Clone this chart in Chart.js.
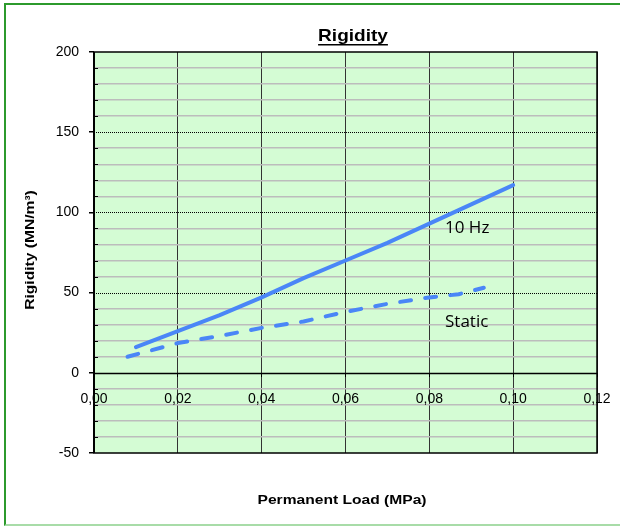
<!DOCTYPE html>
<html>
<head>
<meta charset="utf-8">
<script src="https://cdn.jsdelivr.net/npm/chart.js@4"></script>
<style>
  html, body { margin: 0; padding: 0; background: #fff; }
  #wrap { position: relative; width: 620px; height: 530px; }
  #frame {
    position: absolute; left: 4px; top: 3px; width: 620px; height: 523px;
    border-left: 2px solid #2c9a2c; border-top: 2px solid #2c9a2c;
    border-bottom: 2px solid #a8dca8; box-sizing: border-box;
  }
  canvas { position: absolute; left: 0; top: 0; }
</style>
</head>
<body>
<div id="wrap">
  <div id="frame"></div>
  <canvas id="rigidityChart" width="620" height="530"></canvas>
</div>
<script>
// Rigidity vs permanent load

const loads10Hz = [0.01, 0.02, 0.03, 0.04, 0.05, 0.06, 0.07, 0.08, 0.09, 0.10];
const rigidity10Hz = [16, 26, 36, 47, 59, 70, 81, 93, 105, 117];

const loadsStatic = [0.008, 0.02, 0.03, 0.04, 0.05, 0.06, 0.07, 0.08, 0.087, 0.093];
const rigidityStatic = [10, 18.5, 23, 28, 32, 38, 43, 47, 49, 53];

const xTicks = [0, 0.02, 0.04, 0.06, 0.08, 0.10, 0.12];
const yMajorTicks = [-50, 0, 50, 100, 150, 200];

const LINE_BLUE = '#4a86f7';
const FONT = '"Liberation Sans", Arial, sans-serif';

function toPoints(xs, ys) {
  return xs.map((x, i) => ({ x, y: ys[i] }));
}

// text squeezed/stretched along its own direction
function stretchedText(ctx, text, x, y, sx) {
  ctx.save();
  ctx.translate(x, y);
  ctx.scale(sx, 1);
  ctx.fillText(text, 0, 0);
  ctx.restore();
}

// Plot background, major dotted lines, frame and texts
const decorPlugin = {
  id: 'decor',
  beforeDraw(chart) {
    const { ctx, chartArea: a } = chart;
    ctx.save();
    ctx.fillStyle = '#d4fcd4';
    ctx.fillRect(a.left, a.top, a.right - a.left, a.bottom - a.top);
    ctx.restore();
  },
  beforeDatasetsDraw(chart) {
    const { ctx, chartArea: a, scales } = chart;
    const y = scales.y;
    ctx.save();
    // dotted major lines
    ctx.strokeStyle = '#000';
    ctx.lineWidth = 1;
    ctx.setLineDash([1, 1]);
    yMajorTicks.forEach(v => {
      if (v === 0 || v === -50 || v === 200) return;
      const py = Math.round(y.getPixelForValue(v)) + 0.5;
      ctx.beginPath();
      ctx.moveTo(a.left, py);
      ctx.lineTo(a.right, py);
      ctx.stroke();
    });
    ctx.setLineDash([]);
    // small minor ticks inside left axis
    for (let v = -40; v < 200; v += 10) {
      if (v % 50 === 0) continue;
      const py = Math.round(y.getPixelForValue(v)) + 0.5;
      ctx.beginPath();
      ctx.moveTo(a.left, py);
      ctx.lineTo(a.left + 4, py);
      ctx.stroke();
    }
    // plot frame
    ctx.lineWidth = 1.5;
    ctx.strokeRect(a.left, a.top, a.right - a.left, a.bottom - a.top);
    ctx.lineWidth = 2;
    ctx.beginPath();
    ctx.moveTo(a.left, a.top);
    ctx.lineTo(a.left, a.bottom);
    ctx.stroke();
    // zero line
    const y0 = Math.round(y.getPixelForValue(0)) + 0.5;
    ctx.lineWidth = 1.5;
    ctx.beginPath();
    ctx.moveTo(a.left, y0);
    ctx.lineTo(a.right, y0);
    ctx.stroke();
    ctx.restore();
  },
  afterDraw(chart) {
    const { ctx } = chart;
    ctx.save();
    ctx.fillStyle = '#000';
    ctx.textBaseline = 'middle';
    ctx.textAlign = 'center';

    // title with underline
    ctx.font = 'bold 17px ' + FONT;
    const tx = 353, ty = 36;
    stretchedText(ctx, 'Rigidity', tx, ty, 1.12);
    const tw = ctx.measureText('Rigidity').width * 1.12;
    ctx.fillRect(tx - tw / 2, ty + 8, tw, 1.5);

    // axis titles
    ctx.font = 'bold 13px ' + FONT;
    stretchedText(ctx, 'Permanent Load (MPa)', 342, 500, 1.2);
    ctx.save();
    ctx.translate(30, 250);
    ctx.rotate(-Math.PI / 2);
    stretchedText(ctx, 'Rigidity (MN/m\u00B3)', 0, 0, 1.2);
    ctx.restore();

    // series labels
    ctx.font = '17px "Open Sans", "Noto Sans", sans-serif';
    ctx.textAlign = 'left';
    ctx.textBaseline = 'alphabetic';
    ctx.fillText('10 Hz', 445, 233);
    ctx.fillText('Static', 445, 327);
    ctx.restore();
  }
};

new Chart(document.getElementById('rigidityChart'), {
  type: 'scatter',
  data: {
    datasets: [
      {
        label: '10 Hz',
        data: toPoints(loads10Hz, rigidity10Hz),
        showLine: true,
        borderColor: LINE_BLUE,
        borderWidth: 4,
        borderCapStyle: 'round',
        pointRadius: 0,
        tension: 0
      },
      {
        label: 'Static',
        data: toPoints(loadsStatic, rigidityStatic),
        showLine: true,
        borderColor: LINE_BLUE,
        borderWidth: 4,
        borderDash: [11, 14.3],
        borderCapStyle: 'round',
        pointRadius: 0,
        tension: 0
      }
    ]
  },
  options: {
    responsive: false,
    animation: false,
    layout: { padding: { left: 0, right: 23, top: 52, bottom: 77 } },
    plugins: {
      legend: { display: false },
      tooltip: { enabled: false }
    },
    scales: {
      x: {
        type: 'linear',
        position: { y: 0 },
        min: 0,
        max: 0.12,
        afterFit: (s) => { s.height = 0; s.paddingRight = 0; s.paddingLeft = 0; },
        afterBuildTicks: (s) => { s.ticks = xTicks.map(v => ({ value: v })); },
        ticks: {
          color: '#000',
          font: { family: FONT, size: 14 },
          padding: 14,
          maxRotation: 0,
          autoSkip: false,
          callback: (v) => v.toFixed(2).replace('.', ',')
        },
        grid: {
          color: '#333',
          lineWidth: 1,
          tickLength: 4,
          tickColor: '#000'
        },
        border: { display: false }
      },
      y: {
        type: 'linear',
        min: -50,
        max: 200,
        afterFit: (s) => { s.width = 94; },
        ticks: {
          stepSize: 10,
          color: '#000',
          font: { family: FONT, size: 14 },
          padding: 10,
          autoSkip: false,
          callback: (v) => (v % 50 === 0 ? String(v) : '')
        },
        grid: {
          color: (c) => (c.tick && c.tick.value % 50 === 0 ? 'rgba(0,0,0,0)' : '#bcbcbc'),
          lineWidth: 1.5,
          tickLength: 5,
          tickColor: (c) => (c.tick && c.tick.value % 50 === 0 ? '#000' : 'rgba(0,0,0,0)')
        },
        border: { display: false }
      }
    }
  },
  plugins: [decorPlugin]
});
</script>
</body>
</html>
